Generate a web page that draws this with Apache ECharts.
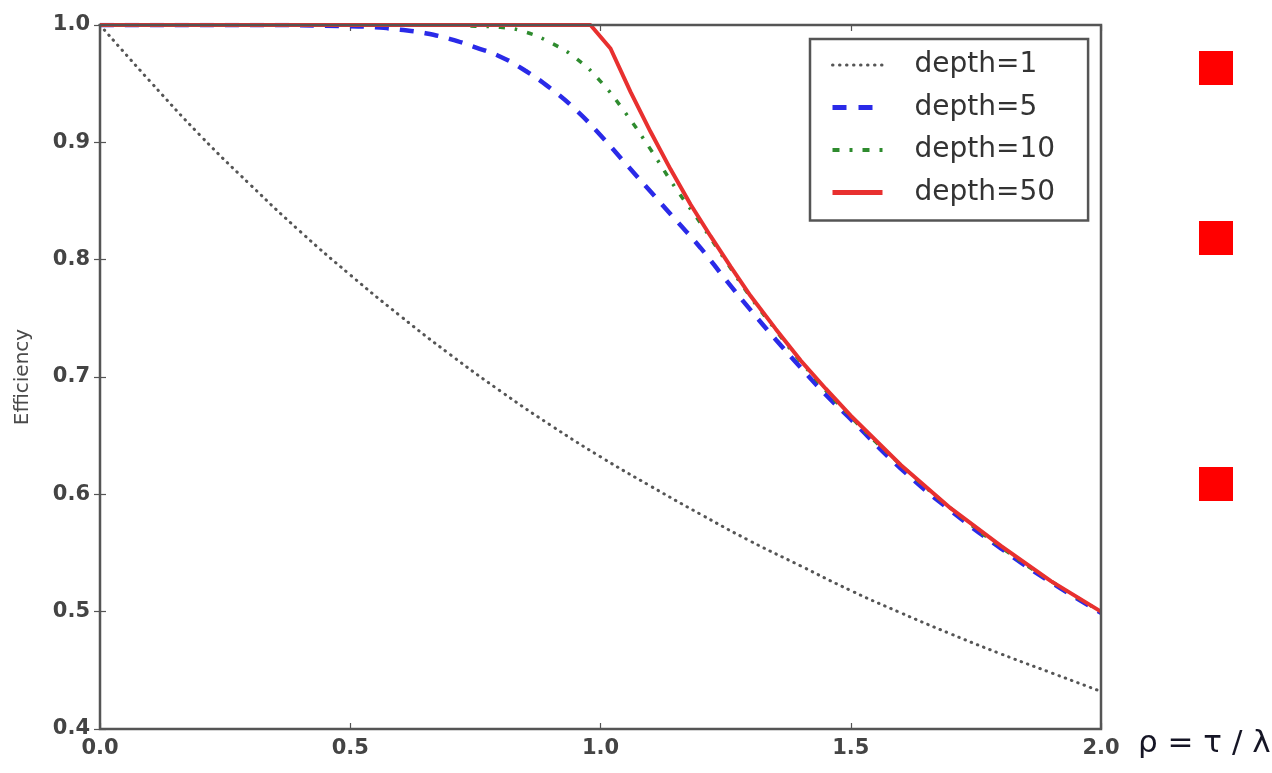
<!DOCTYPE html>
<html>
<head>
<meta charset="utf-8">
<title>Efficiency vs load</title>
<script src="https://cdn.jsdelivr.net/npm/echarts@6/dist/echarts.min.js"></script>
<style>
  html, body { margin: 0; padding: 0; background: #fff; }
  #chart { width: 1272px; height: 773px; }
</style>
</head>
<body>
<div id="chart"></div>
<script>
// Load ratio rho = tau / lambda and efficiency for each buffer depth
const rhoD1 = [0, 0.1, 0.2, 0.3, 0.4, 0.5, 0.6, 0.7, 0.8, 0.9, 1.0, 1.1, 1.2, 1.3, 1.4, 1.5, 1.6, 1.7, 1.8, 1.9, 2.0];
const effD1 = [1.0, 0.952, 0.906, 0.864, 0.824, 0.787, 0.752, 0.719, 0.688, 0.659, 0.632, 0.607, 0.583, 0.560, 0.539, 0.518, 0.499, 0.481, 0.464, 0.448, 0.432];

const rhoD5 = [0, 0.3, 0.5, 0.55, 0.6, 0.65, 0.7, 0.75, 0.8, 0.85, 0.9, 0.95, 1.0, 1.05, 1.1, 1.15, 1.2, 1.25, 1.3, 1.35, 1.4, 1.45, 1.5, 1.6, 1.7, 1.8, 1.9, 2.0];
const effD5 = [1.0, 1.0, 0.999, 0.998, 0.996, 0.993, 0.988, 0.981, 0.973, 0.961, 0.946, 0.928, 0.906, 0.882, 0.858, 0.834, 0.810, 0.783, 0.757, 0.732, 0.708, 0.685, 0.664, 0.622, 0.586, 0.554, 0.525, 0.499];

const rhoD10 = [0, 0.5, 0.7, 0.75, 0.8, 0.85, 0.9, 0.95, 1.0, 1.05, 1.1, 1.15, 1.2, 1.25, 1.3, 1.35, 1.4, 1.5, 1.6, 1.7, 1.8, 1.9, 2.0];
const effD10 = [1.0, 1.0, 1.0, 0.999, 0.998, 0.994, 0.985, 0.972, 0.952, 0.925, 0.894, 0.861, 0.831, 0.799, 0.768, 0.740, 0.713, 0.666, 0.625, 0.588, 0.555, 0.526, 0.500];

const rhoD50 = [0, 0.5, 0.98, 1.02, 1.06, 1.1, 1.14, 1.18, 1.22, 1.26, 1.3, 1.35, 1.4, 1.45, 1.5, 1.6, 1.7, 1.8, 1.9, 2.0];
const effD50 = [1.0, 1.0, 1.0, 0.980, 0.943, 0.909, 0.877, 0.847, 0.820, 0.794, 0.769, 0.741, 0.714, 0.690, 0.667, 0.625, 0.588, 0.556, 0.526, 0.500];

const seriesNames = ['depth=1', 'depth=5', 'depth=10', 'depth=50'];
const xTicks = [0.0, 0.5, 1.0, 1.5, 2.0];
const yTicks = [0.4, 0.5, 0.6, 0.7, 0.8, 0.9, 1.0];

const pairs = (xs, ys) => xs.map((x, i) => [x, ys[i]]);

const chart = echarts.init(document.getElementById('chart'), null, { renderer: 'canvas' });

const FRAME = '#555555';
const TICK_FONT = 'DejaVu Sans';

// Line looks shared by the plotted curves and their legend keys
const styles = [
  { color: '#555555', width: 3, type: [0.5, 6.2], cap: 'round' },
  { color: '#2a2ae8', width: 4.5, type: [14, 11] },
  { color: '#2e8b2e', width: 3.5, type: [6, 10, 2.5, 10] },
  { color: '#e8302f', width: 4 }
];
const legendStyles = [
  { color: '#555555', width: 3, type: [0.5, 6.5], cap: 'round' },
  { color: '#2a2ae8', width: 5, type: [14, 12] },
  { color: '#2e8b2e', width: 4, type: [7, 10, 3, 10] },
  { color: '#e8302f', width: 5 }
];

const baseAxis = {
  type: 'value',
  axisLine: { show: false },
  splitLine: { show: false },
  axisTick: { show: true, inside: true, length: 6, lineStyle: { color: FRAME, width: 1.2 } }
};

chart.setOption({
  animation: false,
  backgroundColor: '#ffffff',
  grid: {
    left: 100, top: 25, right: 171, bottom: 44,
    show: true, borderColor: FRAME, borderWidth: 2.5, z: 5,
    backgroundColor: 'transparent'
  },
  xAxis: [
    Object.assign({}, baseAxis, {
      position: 'bottom', min: xTicks[0], max: xTicks[xTicks.length - 1], interval: 0.5,
      axisLabel: {
        margin: 9, fontFamily: TICK_FONT, fontSize: 21, fontWeight: 'bold', color: '#444',
        formatter: v => v.toFixed(1)
      }
    }),
    Object.assign({}, baseAxis, {
      position: 'top', min: xTicks[0], max: xTicks[xTicks.length - 1], interval: 0.5,
      axisLabel: { show: false }
    })
  ],
  yAxis: [
    Object.assign({}, baseAxis, {
      position: 'left', min: yTicks[0], max: yTicks[yTicks.length - 1], interval: 0.1,
      name: 'Efficiency', nameLocation: 'middle', nameGap: 67, nameRotate: 90,
      nameTextStyle: { fontFamily: 'DejaVu Sans', fontSize: 20, color: '#4a4a4a' },
      axisLabel: {
        margin: 10, fontFamily: TICK_FONT, fontSize: 21, fontWeight: 'bold', color: '#444',
        formatter: v => v.toFixed(1)
      }
    }),
    Object.assign({}, baseAxis, {
      position: 'right', min: yTicks[0], max: yTicks[yTicks.length - 1], interval: 0.1,
      axisLabel: { show: false }
    })
  ],
  legend: {
    orient: 'vertical',
    left: 810, top: 39,
    padding: [11, 33, 13, 20],
    itemWidth: 50, itemHeight: 14, itemGap: 12.5,
    backgroundColor: '#ffffff',
    borderColor: FRAME, borderWidth: 2.5, borderRadius: 0,
    itemStyle: { opacity: 0 },
    data: seriesNames.map((name, i) => ({ name: name, lineStyle: legendStyles[i] })),
    textStyle: {
      fontFamily: 'DejaVu Sans', fontSize: 28, color: '#333',
      lineHeight: 30, padding: [0, 0, 0, 27]
    }
  },
  series: [
    [rhoD1, effD1, true, 2],
    [rhoD5, effD5, true, 3],
    [rhoD10, effD10, true, 3],
    [rhoD50, effD50, false, 4]
  ].map(([xs, ys, smooth, z], i) => ({
    name: seriesNames[i], type: 'line', data: pairs(xs, ys),
    smooth: smooth, showSymbol: false, symbol: 'none', clip: true, z: z,
    lineStyle: styles[i],
    itemStyle: { color: styles[i].color }
  })),
  graphic: [
    // axis title for the load ratio
    {
      type: 'text', left: 1138, top: 728, z: 10,
      style: { text: 'ρ = τ / λ', fontFamily: 'DejaVu Sans', fontSize: 31, fill: '#151525' }
    },
    // bullet squares on the right
    { type: 'rect', shape: { x: 1199, y: 51, width: 34, height: 34 }, style: { fill: '#ff0000' } },
    { type: 'rect', shape: { x: 1199, y: 221, width: 34, height: 34 }, style: { fill: '#ff0000' } },
    { type: 'rect', shape: { x: 1199, y: 467, width: 34, height: 34 }, style: { fill: '#ff0000' } }
  ]
});
</script>
</body>
</html>
